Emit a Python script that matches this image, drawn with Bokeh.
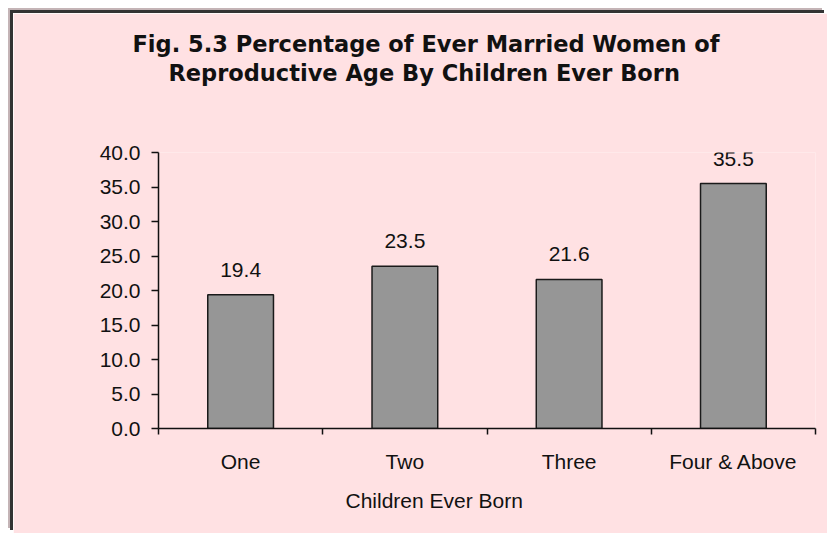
from bokeh.plotting import figure
from bokeh.models import FixedTicker, NumeralTickFormatter, LabelSet, ColumnDataSource, Range1d, Title
from bokeh.embed import file_html
from bokeh.resources import INLINE
from bokeh.core.properties import value

# ---- data ----
categories = ["One", "Two", "Three", "Four & Above"]
percentages = [19.4, 23.5, 21.6, 35.5]
y_ticks = [0, 5, 10, 15, 20, 25, 30, 35, 40]
title_lines = ["Fig. 5.3 Percentage of Ever Married Women of",
               "Reproductive Age By Children Ever Born"]
x_title = "Children Ever Born"

# ---- style ----
PINK = "#FFE1E3"
DARK = "#111111"
OX, OY = 13, 13          # canvas origin on the page
W, H = 827 - OX, 533 - OY
ML, MT = 158 - OX, 152 - OY
MR, MB = W + OX - 815, H + OY - 428
Y_MAX = 40
N = len(categories)

p = figure(width=W, height=H, output_backend="svg", toolbar_location=None,
           x_range=Range1d(0, N), y_range=Range1d(0, Y_MAX), title_location=None,
           min_border_left=ML, min_border_right=MR, min_border_top=MT, min_border_bottom=MB,
           background_fill_color=PINK, border_fill_color=PINK, outline_line_color=None)
p.styles = {"margin-left": f"{OX}px", "margin-top": f"{OY}px",
            "box-shadow": "-3px -3px 0 0 #333333, -5px -5px 0 0 #c4b4b6"}

p.xgrid.visible = False
p.ygrid.visible = False

xs = [i + 0.5 for i in range(N)]
source = ColumnDataSource(dict(x=xs, top=percentages,
                               label=[f"{v:.1f}" for v in percentages]))
p.vbar(x="x", top="top", bottom=0, width=0.4, source=source,
       fill_color="#969696", line_color="#1a1a1a", line_width=1.5)

labels = LabelSet(x="x", y="top", text="label", source=source, y_offset=18,
                  text_align="center", text_baseline="alphabetic",
                  text_font=value("Liberation Sans"), text_font_size=value("21px"),
                  text_color=DARK)
p.add_layout(labels)

# x axis
xa = p.xaxis[0]
xa.ticker = FixedTicker(ticks=xs, minor_ticks=list(range(N + 1)))
xa.major_label_overrides = {x: c for x, c in zip(xs, categories)}
xa.major_tick_out = 0
xa.major_tick_in = 0
xa.minor_tick_out = 6
xa.minor_tick_in = 0
xa.minor_tick_line_color = DARK
xa.minor_tick_line_width = 1.5
xa.axis_line_color = DARK
xa.axis_line_width = 1.5
xa.major_label_standoff = 15
xa.major_label_text_font = "Liberation Sans"
xa.major_label_text_font_size = "21px"
xa.major_label_text_color = DARK

# y axis
ya = p.yaxis[0]
ya.ticker = FixedTicker(ticks=y_ticks, minor_ticks=[])
ya.formatter = NumeralTickFormatter(format="0.0")
ya.major_tick_out = 7
ya.major_tick_in = 0
ya.major_tick_line_color = DARK
ya.major_tick_line_width = 1.5
ya.axis_line_color = DARK
ya.axis_line_width = 1.5
ya.major_label_standoff = 11
ya.major_label_text_font = "Liberation Sans"
ya.major_label_text_font_size = "21px"
ya.major_label_text_color = DARK

# titles: first added sits nearest the frame
p.add_layout(Title(text=" ", text_font_size="1px", standoff=64), "above")   # spacer
p.add_layout(Title(text=title_lines[1], align="left", offset=168 - 158, standoff=0,
                   text_font="DejaVu Sans", text_font_style="bold",
                   text_font_size="22.5px", text_color=DARK), "above")
p.add_layout(Title(text=title_lines[0], align="left", offset=132 - 158, standoff=2,
                   text_font="DejaVu Sans", text_font_style="bold",
                   text_font_size="22.5px", text_color=DARK), "above")

p.add_layout(Title(text=x_title, align="left", offset=345 - 158, standoff=26,
                   vertical_align="top",
                   text_font="Liberation Sans", text_font_style="normal",
                   text_font_size="21px", text_color=DARK), "below")

open("out.html", "w").write(file_html(p, INLINE))
